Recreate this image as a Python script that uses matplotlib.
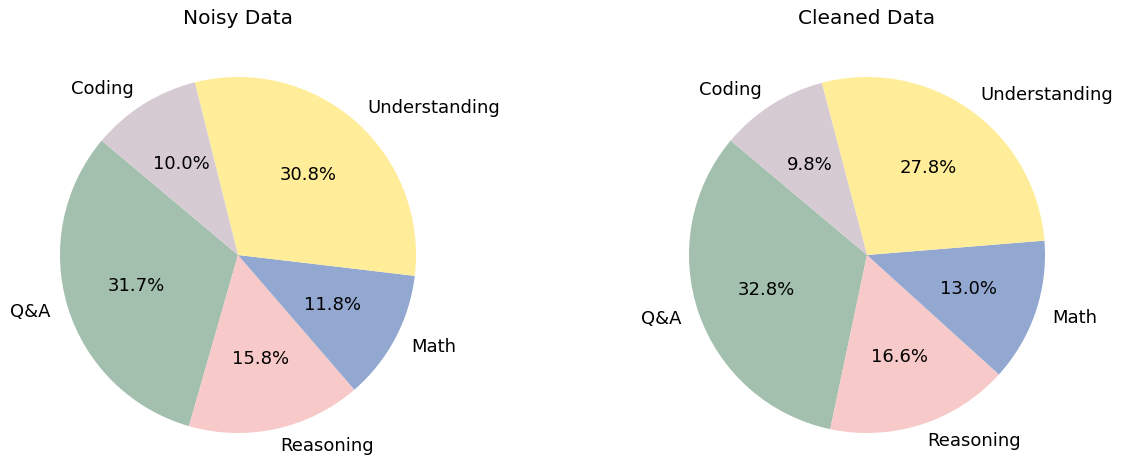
import matplotlib.pyplot as plt

labels = ['Q&A', 'Reasoning', 'Math', 'Understanding', 'Coding']
noisy = [31.7, 15.8, 11.8, 30.8, 10.0]
cleaned = [32.8, 16.6, 13.0, 27.8, 9.8]
colors = ['#a3bfad', '#f7c9c9', '#93a8d0', '#ffed99', '#d6cbd3']

fig = plt.figure(figsize=(11.23, 4.59), dpi=100)
W, H = 1123, 459
size = 445

def make_ax(cx, cy):
    return fig.add_axes([(cx - size / 2) / W, (H - cy - size / 2) / H, size / W, size / H])

ax1 = make_ax(238, 255)
ax2 = make_ax(867, 255)

for ax, vals, title in [(ax1, noisy, 'Noisy Data'), (ax2, cleaned, 'Cleaned Data')]:
    ax.pie(vals, labels=labels, colors=colors, autopct='%1.1f%%', startangle=140,
           textprops={'fontsize': 13})
    ax.set_xlim(-1.25, 1.25)
    ax.set_ylim(-1.25, 1.25)
    ax.set_title(title, fontsize=14.5)

fig.savefig('out.png', dpi=100)
